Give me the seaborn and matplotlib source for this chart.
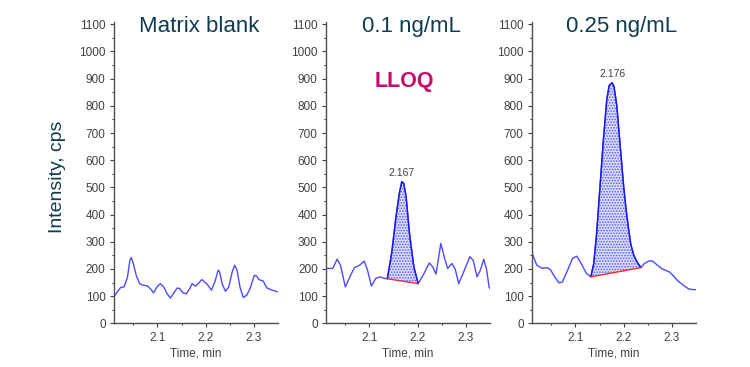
import numpy as np
import matplotlib
matplotlib.use("Agg")
import matplotlib.pyplot as plt
import seaborn as sns

# Chromatogram traces (time in min, intensity in cps)
blank_time = [2.008, 2.017, 2.024, 2.031, 2.038, 2.043, 2.046, 2.050, 2.056, 2.063,
              2.069, 2.080, 2.087, 2.092, 2.099, 2.106, 2.113, 2.120, 2.127, 2.134,
              2.141, 2.146, 2.153, 2.160, 2.167, 2.172, 2.179, 2.186, 2.192, 2.202,
              2.212, 2.219, 2.226, 2.229, 2.234, 2.241, 2.248, 2.255, 2.260, 2.265,
              2.271, 2.278, 2.285, 2.292, 2.301, 2.306, 2.310, 2.319, 2.327, 2.335,
              2.349]
blank_int = [93, 116, 132, 134, 171, 233, 242, 220, 177, 146,
             141, 137, 124, 112, 134, 146, 134, 109, 93, 112,
             130, 128, 112, 109, 128, 146, 137, 149, 161, 146,
             122, 152, 196, 189, 146, 118, 134, 189, 214, 196,
             134, 95, 103, 128, 177, 173, 161, 156, 130, 124,
             116]

lloq_time = [2.012, 2.024, 2.033, 2.040, 2.050, 2.061, 2.069, 2.080, 2.089, 2.096,
             2.104, 2.113, 2.122, 2.132, 2.137, 2.146, 2.155, 2.162, 2.167, 2.171,
             2.176, 2.183, 2.192, 2.201, 2.213, 2.224, 2.231, 2.238, 2.248, 2.255,
             2.262, 2.271, 2.278, 2.285, 2.294, 2.308, 2.315, 2.323, 2.330, 2.337,
             2.343, 2.348, 2.353]
lloq_int = [202, 202, 236, 214, 134, 177, 205, 214, 229, 196,
            137, 165, 171, 165, 164, 257, 392, 479, 521, 515,
            466, 331, 208, 146, 183, 222, 208, 181, 294, 245,
            202, 220, 198, 146, 183, 245, 232, 171, 196, 236,
            196, 134, 119]

std_time = [2.007, 2.013, 2.020, 2.031, 2.041, 2.048, 2.057, 2.066, 2.073, 2.084,
            2.094, 2.103, 2.112, 2.123, 2.132, 2.138, 2.144, 2.151, 2.158, 2.165,
            2.170, 2.176, 2.180, 2.186, 2.193, 2.200, 2.205, 2.210, 2.215, 2.221,
            2.228, 2.236, 2.243, 2.253, 2.260, 2.270, 2.280, 2.295, 2.305, 2.313,
            2.324, 2.334, 2.344, 2.352]
std_int = [276, 245, 214, 202, 205, 198, 171, 149, 152, 196,
           239, 247, 220, 183, 171, 220, 331, 503, 675, 823,
           875, 885, 872, 798, 651, 505, 420, 350, 290, 250,
           225, 205, 220, 230, 229, 214, 200, 189, 171, 155,
           140, 127, 124, 124]

titles = ["Matrix blank", "0.1 ng/mL", "0.25 ng/mL"]
peak_rt = [None, "2.167", "2.176"]
peak_start = [None, 2.137, 2.132]
peak_end = [None, 2.201, 2.236]

traces = [(blank_time, blank_int), (lloq_time, lloq_int), (std_time, std_int)]

sns.set_style("ticks")
plt.rcParams["font.family"] = ["Liberation Sans", "DejaVu Sans"]
plt.rcParams["hatch.linewidth"] = 0.8

teal = "#103c50"
grey = "#404040"
trace_col = "#4b4bff"
peak_col = "#1818e8"

fig = plt.figure(figsize=(7.5, 3.67), dpi=100)
lefts = [0.152, 0.4347, 0.7093]
title_x = [0.2653, 0.548, 0.8293]

for i, (t, v) in enumerate(traces):
    ax = fig.add_axes([lefts[i], 0.119, 0.2187, 0.8207])
    t = np.array(t)
    v = np.array(v)
    sns.lineplot(x=t, y=v, ax=ax, sort=False, estimator=None,
                 color=trace_col, lw=1)

    if peak_start[i] is not None:
        m = (t >= peak_start[i]) & (t <= peak_end[i])
        pt, pv = t[m], v[m]
        # integrated area, closed by the straight baseline
        ax.fill(pt, pv, facecolor="#dcdcff", edgecolor="#5a5aff",
                hatch="......", lw=0)
        ax.plot(pt, pv, color=peak_col, lw=1.0)
        ax.plot([pt[0], pt[-1]], [pv[0], pv[-1]], color="#ff2a2a", lw=1)
        k = np.argmax(pv)
        ax.annotate(peak_rt[i], (pt[k], pv[k]), xytext=(0, 4),
                    textcoords="offset points", ha="center", va="baseline",
                    fontsize=7.5, color=grey)

    ax.set_xlim(2.01, 2.35)
    ax.set_ylim(0, 1108)
    ax.set_xticks([2.1, 2.2, 2.3])
    ax.set_xticklabels(["2.1", "2.2", "2.3"])
    ax.set_xticks([2.05, 2.15, 2.25], minor=True)
    ax.set_yticks(np.arange(0, 1101, 100))
    ax.set_yticks(np.arange(50, 1100, 100), minor=True)
    ax.tick_params(which="major", length=3, width=0.8, color=grey,
                   labelsize=8.5, labelcolor=grey, pad=3)
    ax.tick_params(which="minor", length=1.5, width=0.8, color=grey)
    for s in ["top", "right"]:
        ax.spines[s].set_visible(False)
    for s in ["left", "bottom"]:
        ax.spines[s].set_color("#505050")
        ax.spines[s].set_linewidth(1)
    ax.set_xlabel("Time, min", fontsize=8.5, color=grey, labelpad=2.5)
    ax.set_ylabel("")

    fig.text(title_x[i], 0.9136, titles[i], ha="center", va="baseline",
             fontsize=16, color=teal)

fig.text(0.5393, 0.762, "LLOQ", ha="center", va="baseline", fontsize=15.5,
         fontweight="bold", color="#c8086c")
fig.text(0.076, 0.519, "Intensity, cps", rotation=90, ha="center",
         va="center", fontsize=14, color=teal)

fig.savefig("out.png", dpi=100)
